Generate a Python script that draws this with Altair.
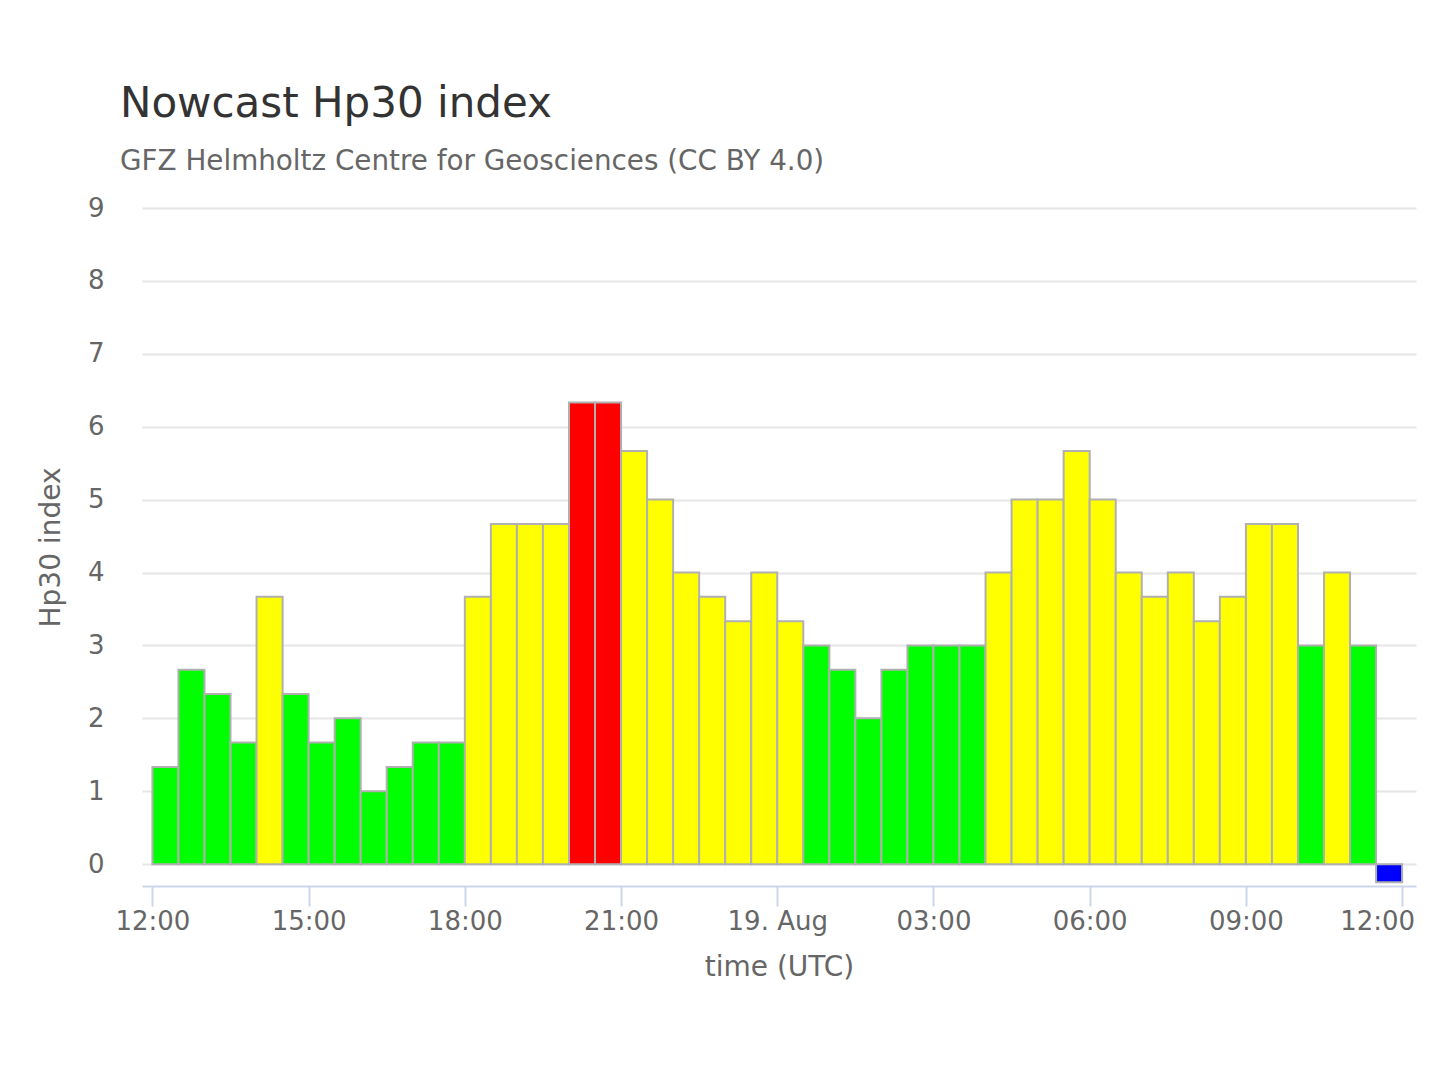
import altair as alt
import pandas as pd

# Half-hourly Hp30 slots, 18 Aug 12:00 UTC -> 19 Aug 12:00 UTC
slot_start = pd.date_range("2022-08-18 12:00", periods=48, freq="30min")
hp30 = [1.333, 2.667, 2.333, 1.667, 3.667, 2.333, 1.667, 2.0, 1.0, 1.333, 1.667, 1.667,
        3.667, 4.667, 4.667, 4.667, 6.333, 6.333,
        5.667, 5.0, 4.0, 3.667, 3.333, 4.0,
        3.333, 3.0, 2.667, 2.0, 2.667, 3.0,
        3.0, 3.0, 4.0, 5.0, 5.0, 5.667,
        5.0, 4.0, 3.667, 4.0, 3.333, 3.667,
        4.667, 4.667, 3.0, 4.0, 3.0, -0.25]
level_names = ["quiet", "active", "storm", "pending"]
level_colors = ["#00ff00", "#ffff00", "#ff0000", "#0000ff"]
tick_hours = ["2022-08-18T12:00:00Z", "2022-08-18T15:00:00Z", "2022-08-18T18:00:00Z",
              "2022-08-18T21:00:00Z", "2022-08-19T00:00:00Z", "2022-08-19T03:00:00Z",
              "2022-08-19T06:00:00Z", "2022-08-19T09:00:00Z", "2022-08-19T12:00:00Z"]


def level(v):
    if v < 0:
        return "pending"
    if v <= 3.0:
        return "quiet"
    if v < 6.0:
        return "active"
    return "storm"


df = pd.DataFrame({
    "start": [t.strftime("%Y-%m-%dT%H:%M:%SZ") for t in slot_start],
    "end": [(t + pd.Timedelta(minutes=30)).strftime("%Y-%m-%dT%H:%M:%SZ") for t in slot_start],
    "hp30": hp30,
    "level": [level(v) for v in hp30],
})


def utc_dt(s):
    t = pd.Timestamp(s)
    return alt.DateTime(year=t.year, month=t.month, date=t.day, hours=t.hour,
                        minutes=t.minute, utc=True)


x_domain = [utc_dt("2022-08-18T11:48:00"), utc_dt("2022-08-19T12:16:00")]
x_ticks = [utc_dt(s.replace("Z", "")) for s in tick_hours]

FONT = "DejaVu Sans"

bars = alt.Chart(df).mark_bar(stroke="#b0b0b0", strokeWidth=2).encode(
    x=alt.X(
        "start:T",
        scale=alt.Scale(type="utc", domain=x_domain),
        axis=alt.Axis(
            values=x_ticks,
            labelExpr="utchours(datum.value) == 0 ? utcFormat(datum.value, '%d. %b') : utcFormat(datum.value, '%H:%M')",
            labelOffset={"condition": {"test": "datum.index == 1", "value": -25}, "value": 0},
            title="time (UTC)",
            grid=False,
            domainColor="#ccd6eb", domainWidth=2,
            tickColor="#ccd6eb", tickWidth=2, tickSize=20,
            labelFontSize=26, labelColor="#666666", labelFont=FONT,
            labelPadding=2, labelFlush=False,
            titleFontSize=28, titleColor="#666666", titleFont=FONT,
            titleFontWeight="normal", titlePadding=19,
        ),
    ),
    x2="end:T",
    y=alt.Y(
        "hp30:Q",
        scale=alt.Scale(domain=[-0.3, 9], nice=False, zero=False),
        axis=alt.Axis(
            values=[0, 1, 2, 3, 4, 5, 6, 7, 8, 9],
            title="Hp30 index",
            grid=True, gridColor="#e6e6e6", gridWidth=2,
            domain=False, ticks=False,
            labelFontSize=26, labelColor="#666666", labelFont=FONT,
            labelPadding=38,
            titleFontSize=28, titleColor="#666666", titleFont=FONT,
            titleFontWeight="normal", titlePadding=22,
        ),
    ),
    y2=alt.datum(0),
    color=alt.Color("level:N", scale=alt.Scale(domain=level_names, range=level_colors), legend=None),
)

chart = bars.properties(
    width=1274,
    height=678,
    autosize=alt.AutoSizeParams(type="none"),
    padding={"left": 134, "top": 200, "right": 16, "bottom": 100},
    background="white",
    title=alt.TitleParams(
        text="Nowcast Hp30 index",
        subtitle="GFZ Helmholtz Centre for Geosciences (CC BY 4.0)",
        anchor="start", frame="group", dx=-22, offset=18,
        font=FONT, fontSize=42, fontWeight="normal", color="#333333",
        subtitleFont=FONT, subtitleFontSize=27.8, subtitleColor="#666666",
        subtitlePadding=22,
    ),
).configure_view(stroke=None)

chart.save("out.html", embed_options={"renderer": "svg", "actions": False})
